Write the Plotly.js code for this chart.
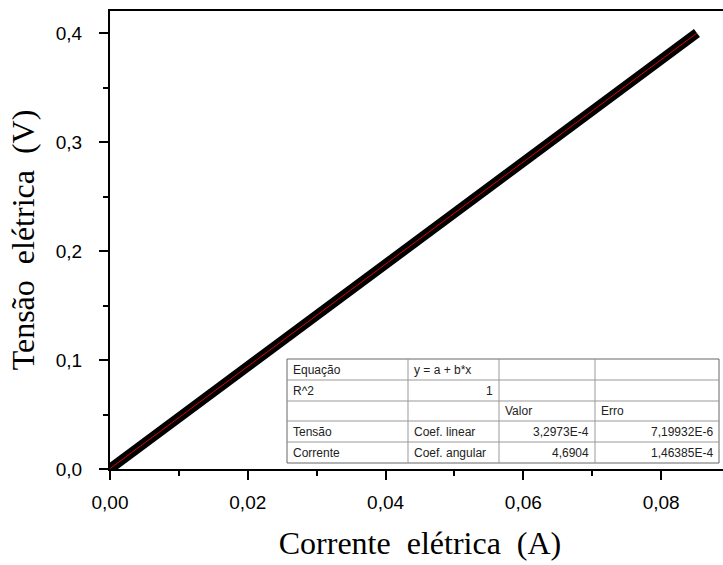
<!DOCTYPE html>
<html><head><meta charset="utf-8">
<script src="https://cdn.plot.ly/plotly-3.0.1.min.js"></script>
<style>html,body{margin:0;padding:0;overflow:hidden;background:#fff}</style>
</head><body><div id="chart"></div>
<script>
const corrente = [0.0, 0.01, 0.02, 0.03, 0.04, 0.05, 0.06, 0.07, 0.08, 0.0852];
const tensao   = [0.0003, 0.047, 0.094, 0.141, 0.188, 0.235, 0.282, 0.329, 0.376, 0.400];
// linear fit endpoints
const fitX = [0.0, 0.0852];
const fitY = [0.00033, 0.3999];
// fit table
const tableRows = [
  ["Equação", "y = a + b*x", "", ""],
  ["R^2", "1", "", ""],
  ["", "", "Valor", "Erro"],
  ["Tensão", "Coef. linear", "3,2973E-4", "7,19932E-6"],
  ["Corrente", "Coef. angular", "4,6904", "1,46385E-4"]
];
const tableAlign = [
  ["left","left","left","left"],
  ["left","right","left","left"],
  ["left","left","left","left"],
  ["left","left","right","right"],
  ["left","left","right","right"]
];

const W = 735, H = 565, ML = 110, MR = 5, MT = 11, MB = 96;
const PW = W - ML - MR, PH = H - MT - MB;
const px = x => (x - ML) / PW;
const py = y => (H - MB - y) / PH;

const colX = [287, 408, 499, 595, 719];
const rowY = [359, 380, 401, 421, 442, 463];
const shapes = [], annotations = [];
shapes.push({type:'rect', xref:'paper', yref:'paper', x0:px(colX[0]), x1:px(colX[4]), y0:py(rowY[5]), y1:py(rowY[0]),
  fillcolor:'#fff', line:{color:'#666', width:1}, layer:'above'});
for (let i = 1; i < rowY.length - 1; i++)
  shapes.push({type:'line', xref:'paper', yref:'paper', x0:px(colX[0]), x1:px(colX[4]), y0:py(rowY[i]), y1:py(rowY[i]), line:{color:'#999', width:1}, layer:'above'});
for (let j = 1; j < colX.length - 1; j++)
  shapes.push({type:'line', xref:'paper', yref:'paper', x0:px(colX[j]), x1:px(colX[j]), y0:py(rowY[0]), y1:py(rowY[5]), line:{color:'#999', width:1}, layer:'above'});
tableRows.forEach((row, i) => row.forEach((t, j) => {
  if (!t) return;
  const al = tableAlign[i][j];
  annotations.push({xref:'paper', yref:'paper', showarrow:false, text:t,
    x: px(al === 'left' ? colX[j] + 4 : colX[j+1] - 4),
    y: py((rowY[i] + rowY[i+1]) / 2), xanchor: al, yanchor:'middle',
    font:{family:'Arial, Liberation Sans', size:12, color:'#222'}});
}));

const traces = [
  {x: corrente, y: tensao, mode:'lines', line:{color:'#000', width:10},
   cliponaxis:false, hoverinfo:'skip'},
  {x: fitX, y: fitY, mode:'lines', line:{color:'#e00000', width:1}, cliponaxis:false, hoverinfo:'skip'}
];

const layout = {
  width: W, height: H, margin:{l:ML, r:MR, t:MT, b:MB},
  paper_bgcolor:'#fff', plot_bgcolor:'#fff', showlegend:false,
  separators:',.',
  font:{family:'Arial, Liberation Sans', color:'#000'},
  xaxis:{range:[0, 0.09], tickvals:[0,0.02,0.04,0.06,0.08], tickformat:'.2f',
    ticks:'outside', ticklen:9, tickwidth:2, tickcolor:'#000',
    minor:{tickvals:[0.01,0.03,0.05,0.07], ticks:'outside', ticklen:5, tickwidth:2, tickcolor:'#000'},
    showline:true, linewidth:2, linecolor:'#000', mirror:true, showgrid:false, zeroline:false,
    ticklabelstandoff:6, tickfont:{size:19, family:'Arial, Liberation Sans'},
    title:{text:'Corrente  elétrica  (A)', font:{family:'Liberation Serif, Times New Roman', size:32}, standoff:20}},
  yaxis:{range:[0, 0.4202], tickvals:[0,0.1,0.2,0.3,0.4], tickformat:'.1f',
    ticks:'outside', ticklen:9, tickwidth:2, tickcolor:'#000',
    minor:{tickvals:[0.05,0.15,0.25,0.35], ticks:'outside', ticklen:5, tickwidth:2, tickcolor:'#000'},
    showline:true, linewidth:2, linecolor:'#000', mirror:false, showgrid:false, zeroline:false,
    ticklabelstandoff:13, tickfont:{size:19, family:'Arial, Liberation Sans'},
    title:{text:'Tensão  elétrica  (V)', font:{family:'Liberation Serif, Times New Roman', size:32}, standoff:12}},
  shapes: shapes, annotations: annotations
};
Plotly.newPlot('chart', traces, layout, {displayModeBar:false, staticPlot:true});
</script></body></html>
